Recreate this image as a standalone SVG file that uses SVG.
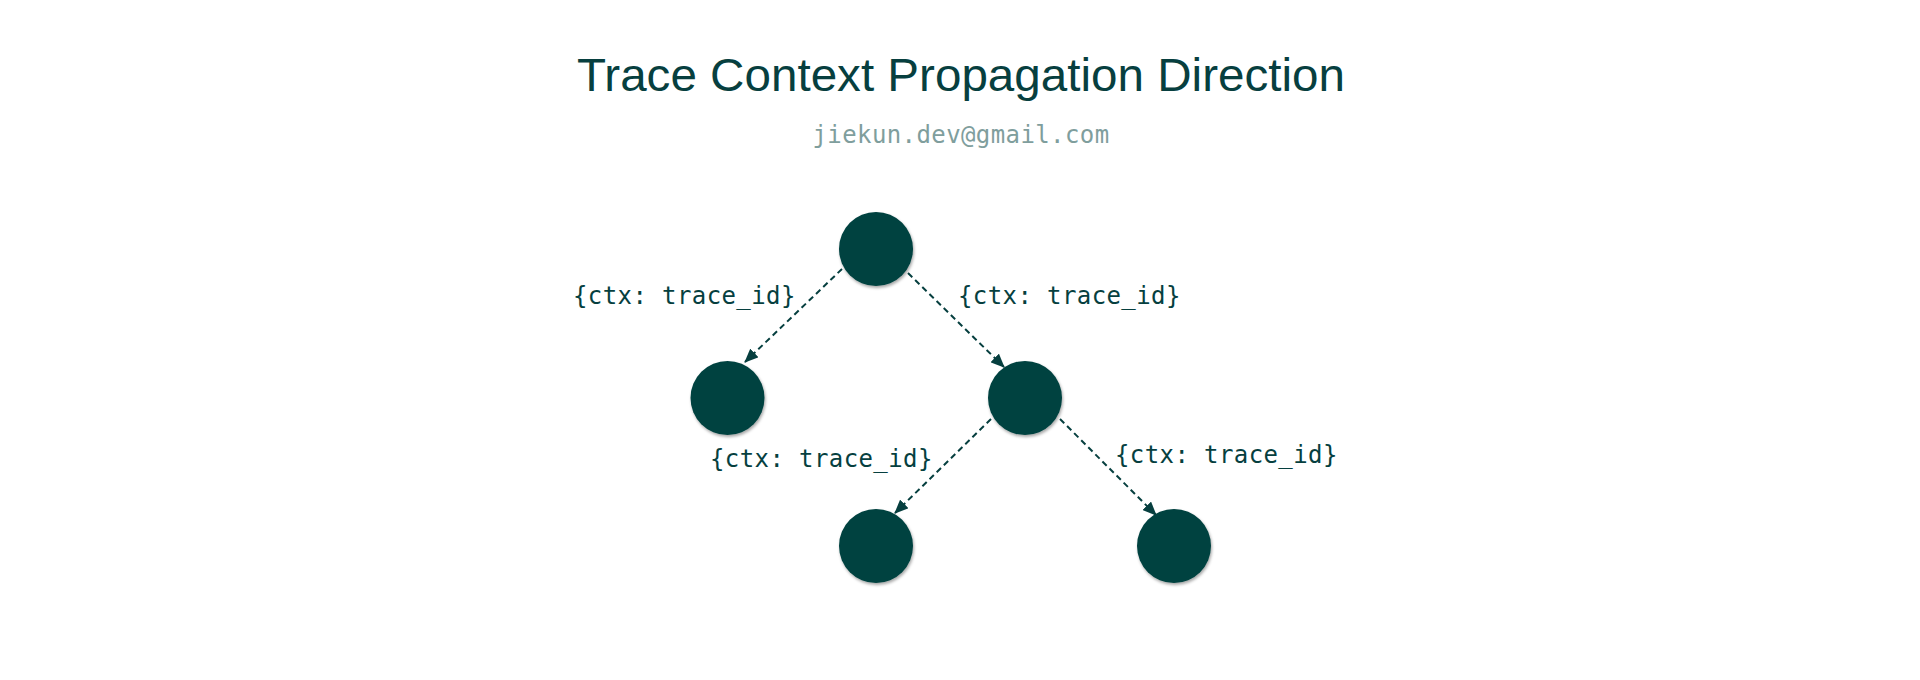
<svg xmlns="http://www.w3.org/2000/svg" width="1920" height="680" viewBox="0 0 1920 680">
  <style>
    .title { font-family: "Liberation Sans", Arial, sans-serif; font-size: 46px; fill: #073f3f; }
    .sub { font-family: "DejaVu Sans Mono", "Liberation Mono", monospace; font-size: 24px; letter-spacing: 0.4px; fill: #7f9e9d; }
    .lbl { font-family: "DejaVu Sans Mono", "Liberation Mono", monospace; font-size: 24px; letter-spacing: 0.4px; fill: #063f3f; }
    .node { fill: #034240; filter: url(#shadow); }
    .edge { stroke: #063f3f; stroke-width: 2; stroke-dasharray: 6 4; fill: none; marker-end: url(#arrow); }
  </style>
  <defs>
    <filter id="shadow" x="-30%" y="-30%" width="160%" height="160%">
      <feDropShadow dx="1" dy="2" stdDeviation="1.6" flood-color="#000" flood-opacity="0.35"/>
    </filter>
    <marker id="arrow" markerUnits="userSpaceOnUse" markerWidth="14" markerHeight="12" viewBox="0 0 14 12" refX="13" refY="6" orient="auto">
      <path d="M0,0 L14,6 L0,12 z" fill="#063f3f"/>
    </marker>
  </defs>
  <rect width="1920" height="680" fill="#ffffff"/>
  <text class="title" x="961" y="91" text-anchor="middle" textLength="768" lengthAdjust="spacingAndGlyphs">Trace Context Propagation Direction</text>
  <text class="sub" x="961" y="143" text-anchor="middle">jiekun.dev@gmail.com</text>

  <g id="connectors">
    <line class="edge" x1="842" y1="269" x2="745" y2="362"/>
    <line class="edge" x1="908" y1="273" x2="1004" y2="367"/>
    <line class="edge" x1="991" y1="419" x2="895" y2="513"/>
    <line class="edge" x1="1060" y1="419" x2="1156" y2="515"/>
    <text class="lbl" x="573" y="304">{ctx: trace_id}</text>
    <text class="lbl" x="958" y="304">{ctx: trace_id}</text>
    <text class="lbl" x="710" y="467">{ctx: trace_id}</text>
    <text class="lbl" x="1115" y="463">{ctx: trace_id}</text>
  </g>

  <g id="node-root"><circle class="node" cx="876" cy="249" r="37"/></g>
  <g id="node-left"><circle class="node" cx="727.5" cy="398" r="37"/></g>
  <g id="node-right"><circle class="node" cx="1025" cy="398" r="37"/></g>
  <g id="node-right-left"><circle class="node" cx="876" cy="546" r="37"/></g>
  <g id="node-right-right"><circle class="node" cx="1174" cy="546" r="37"/></g>
</svg>
